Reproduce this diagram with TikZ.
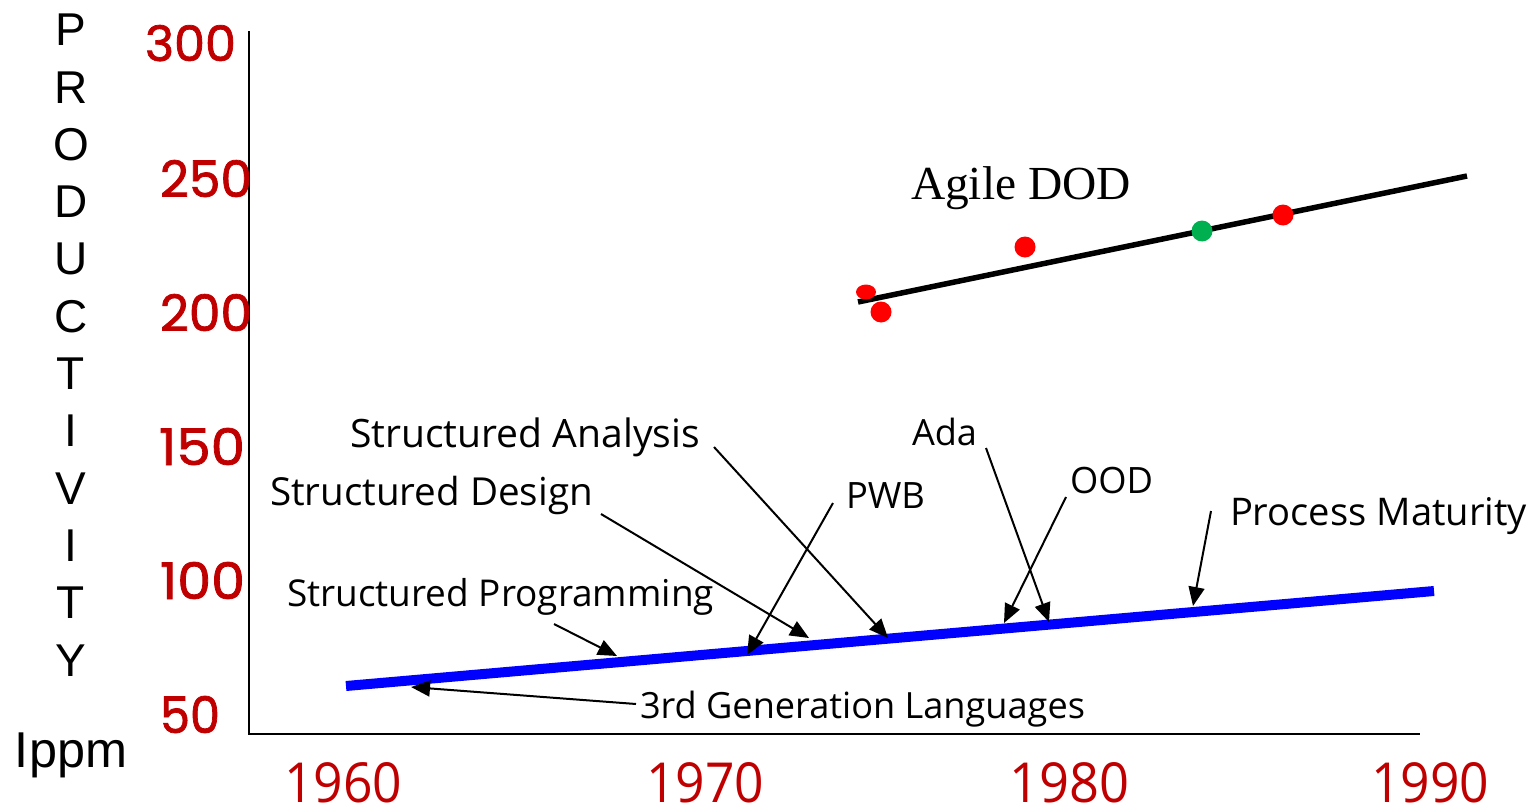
\documentclass[tikz,border=0pt]{standalone}
\usepackage{fontspec}
\setmainfont{Liberation Serif}
\newfontfamily\labelfont{Open Sans}
\newfontfamily\tickfont[FakeBold=1.5]{Poppins}
\newfontfamily\letterfont{Liberation Sans}
\usetikzlibrary{arrows.meta}
\definecolor{tickred}{RGB}{192,0,0}
\definecolor{dotred}{RGB}{255,0,0}
\definecolor{dotgreen}{RGB}{0,176,80}
\definecolor{trendblue}{RGB}{0,0,255}
% scale a text box to a given width (and optionally height), in pt
\newcommand\fitw[2]{\resizebox{#1pt}{!}{#2}}
\newcommand\fitwh[3]{\resizebox{#1pt}{#2pt}{#3}}

\begin{document}
\begin{tikzpicture}[x=1pt,y=-1pt,
  every node/.style={inner sep=0pt,outer sep=0pt},
  tag/.style={font=\labelfont\fontsize{38}{44}\selectfont,anchor=base west},
  yearlabel/.style={font=\labelfont\fontsize{30}{32}\selectfont,text=tickred,anchor=base west},
  ticklabel/.style={font=\tickfont\fontsize{50}{56}\selectfont,text=tickred,anchor=base west},
  axisletter/.style={font=\letterfont\fontsize{46}{50}\selectfont},
  pointer/.style={line width=2pt,-{Triangle[length=19pt,width=16pt]}},
  axisline/.style={line width=2.6pt,black},
  dot/.style={fill=#1,draw=none}]

\useasboundingbox (0,0) rectangle (1537,811);

% axes
\coordinate (origin) at (249,734);
\coordinate (ytop) at (249,31);
\coordinate (xend) at (1420,734);
\draw[axisline] (ytop) -- (origin) -- (xend);

% vertical axis title
\foreach \ch [count=\i from 0] in {P,R,O,D,U,C,T,I,V,I,T,Y}
  \node[axisletter] (letter\i) at (71,{30+57.3*\i}) {\ch};
\node[axisletter,anchor=base] (unit) at (71,767) {\fitw{112}{Ippm}};

% vertical tick labels
\node[ticklabel] (t300) at (145,61)  {\fitwh{91}{36}{300}};
\node[ticklabel] (t250) at (160,197) {\fitwh{92}{37}{250}};
\node[ticklabel] (t200) at (160,331) {\fitwh{92}{37}{200}};
\node[ticklabel] (t150) at (159,465) {\fitwh{86}{37}{150}};
\node[ticklabel] (t100) at (160,599) {\fitwh{85}{37}{100}};
\node[ticklabel] (t50)  at (160,733) {\fitwh{60}{37}{50}};

% horizontal tick labels
\node[yearlabel] (y1960) at (284,802)  {\fitwh{118}{40}{1960}};
\node[yearlabel] (y1970) at (646,802)  {\fitwh{118}{40}{1970}};
\node[yearlabel] (y1980) at (1009,802) {\fitwh{120}{40}{1980}};
\node[yearlabel] (y1990) at (1371,802) {\fitwh{118}{40}{1990}};

% baseline trend
\coordinate (blueA) at (346,686);
\coordinate (blueB) at (1434,591);
\draw[trendblue,line width=10pt] (blueA) -- (blueB);

% agile trend and data points
\coordinate (agileA) at (858,302);
\coordinate (agileB) at (1467,176);
\draw[black,line width=5.5pt] (agileA) -- (agileB);
\fill[dot=dotred] (866,292) ellipse [x radius=10pt,y radius=7.5pt];
\fill[dot=dotred] (881,312) circle [radius=10.5pt];
\fill[dot=dotred] (1025,247) circle [radius=10.5pt];
\fill[dot=dotgreen] (1202,231) circle [radius=10.5pt];
\fill[dot=dotred] (1283,215) circle [radius=10.5pt];
\node[font=\fontsize{47}{52}\selectfont,anchor=base west] (agile) at (911,199) {\fitw{220}{Agile DOD}};

% milestone labels
\node[tag] (sa)  at (350,447)  {\fitw{350}{Structured Analysis}};
\node[tag] (sd)  at (270,505)  {\fitw{323}{Structured Design}};
\node[tag] (sp)  at (287,606)  {\fitw{427}{Structured Programming}};
\node[tag] (pwb) at (846,508)  {\fitw{79}{PWB}};
\node[tag] (ada) at (912,445)  {\fitw{65}{Ada}};
\node[tag] (ood) at (1070,493) {\fitw{83}{OOD}};
\node[tag] (pm)  at (1230,525) {\fitw{297}{Process Maturity}};
\node[tag] (gen) at (640,718)  {\fitw{445}{3rd Generation Languages}};

% pointer ends
\coordinate (saT) at (714,447);   \coordinate (saH) at (888,638);
\coordinate (sdT) at (601,514);   \coordinate (sdH) at (809,638);
\coordinate (spT) at (554,624);   \coordinate (spH) at (617,656);
\coordinate (pwbT) at (833,503);  \coordinate (pwbH) at (747,655);
\coordinate (adaT) at (986,448);  \coordinate (adaH) at (1049,622);
\coordinate (oodT) at (1066,497); \coordinate (oodH) at (1004,623);
\coordinate (pmT) at (1211,511);  \coordinate (pmH) at (1193,606);
\coordinate (genT) at (636,704);  \coordinate (genH) at (411,687);

\draw[pointer] (saT) -- (saH);
\draw[pointer] (sdT) -- (sdH);
\draw[pointer] (spT) -- (spH);
\draw[pointer] (pwbT) -- (pwbH);
\draw[pointer] (adaT) -- (adaH);
\draw[pointer] (oodT) -- (oodH);
\draw[pointer] (pmT) -- (pmH);
\draw[pointer] (genT) -- (genH);
\end{tikzpicture}
\end{document}
